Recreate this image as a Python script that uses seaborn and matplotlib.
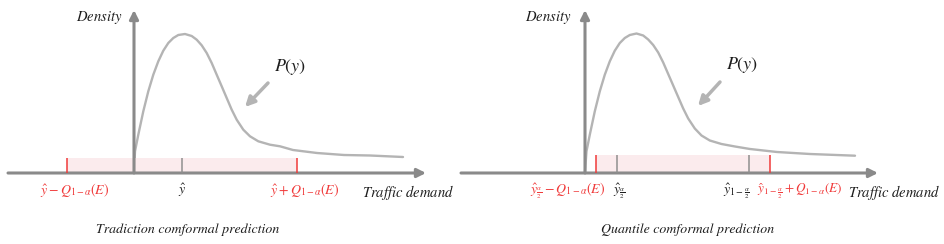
import matplotlib
matplotlib.use("Agg")
import matplotlib.pyplot as plt
import seaborn as sns
import pandas as pd

#-------------------------------------------------------------------------------------
# Values (x = demand from the y axis, y = density)
#-------------------------------------------------------------------------------------
# Traditional conformal prediction panel
trad_x = [0, 1, 4.3, 9.3, 14.3, 19.3, 24.3, 29.3, 34.3, 39.3, 44.3, 51, 57.7, 62.7, 67.7,
          72.7, 77.7, 82.7, 87.7, 92.7, 97.7, 102.7, 109.3, 116, 124.3, 136, 146, 159,
          183, 210, 236, 269]
trad_density = [1, 21.7, 38.3, 61.7, 81.7, 98.3, 111.7, 122.3, 130, 135, 138, 139, 137,
                133.3, 127.7, 120, 110, 98.3, 86.7, 75, 63.3, 53.3, 43.3, 36.7, 31.7, 28.3,
                26.7, 23, 20, 18, 17.5, 16]
trad_yhat = 48
trad_q = 115

# Quantile conformal prediction panel
quant_x = [0, 1.5, 4.8, 9.8, 14.8, 19.8, 24.8, 29.8, 34.8, 39.8, 44.8, 51.5, 58.2, 63.2,
           68.2, 73.2, 78.2, 83.2, 88.2, 93.2, 98.2, 103.2, 109.8, 116.5, 124.8, 136.5,
           150, 165, 192, 225, 270]
quant_density = [1, 21.7, 38.3, 61.7, 81.7, 98.3, 111.7, 122.3, 130, 135, 138, 139.5, 137.5,
                 133.5, 128, 120.5, 110.5, 99, 87.5, 76, 64.5, 54.5, 44.5, 37.5, 32.5, 29,
                 26.5, 24, 21, 19, 17.3]
quant_lo = 32
quant_hi = 164
quant_q = 21

# Texts
trad_labels = [r"$\hat{y}-Q_{1-\alpha}(E)$", r"$\hat{y}$", r"$\hat{y}+Q_{1-\alpha}(E)$"]
quant_labels = [r"$\hat{y}_{\frac{\alpha}{2}}-Q_{1-\alpha}(E)$", r"$\hat{y}_{\frac{\alpha}{2}}$",
                r"$\hat{y}_{1-\frac{\alpha}{2}}$", r"$\hat{y}_{1-\frac{\alpha}{2}}+Q_{1-\alpha}(E)$"]
titles = ["Tradiction comformal prediction", "Quantile comformal prediction"]

#-------------------------------------------------------------------------------------
# Style
#-------------------------------------------------------------------------------------
sns.set_theme(style="white")
plt.rcParams["mathtext.fontset"] = "stix"
plt.rcParams["font.family"] = ["STIXGeneral", "DejaVu Serif"]

axis_gray = "#8a8a8a"
curve_gray = "#b4b4b4"
red = "#f03a3a"
band_pink = "#fbe8ea"
text_dark = "#1e1e1e"
label_size = 10

fig = plt.figure(figsize=(9.45, 2.44), dpi=100)

# one axes per panel, one data unit ~ one pixel
ax1 = fig.add_axes([0, 0, 472 / 945, 1])
ax1.set_xlim(-134, 338)
ax1.set_ylim(-71, 173)
ax2 = fig.add_axes([472 / 945, 0, 473 / 945, 1])
ax2.set_xlim(-113, 360)
ax2.set_ylim(-71, 173)


def draw_frame(ax, x_start, x_end, y_end, dens_x, traffic_x):
    # x and y axes with arrow heads
    ax.annotate("", xy=(x_end, 0), xytext=(x_start, 0),
                arrowprops=dict(arrowstyle="-|>", color=axis_gray, lw=2.2,
                                mutation_scale=13, shrinkA=0, shrinkB=0), zorder=3)
    ax.annotate("", xy=(0, y_end), xytext=(0, 0),
                arrowprops=dict(arrowstyle="-|>", color=axis_gray, lw=2.2,
                                mutation_scale=13, shrinkA=0, shrinkB=0), zorder=3)
    ax.text(dens_x, 156, r"$Density$", ha="right", va="center", fontsize=10.5, color=text_dark)
    ax.text(traffic_x, -19, r"$Traffic\ demand$", ha="left", va="center", fontsize=10.5, color=text_dark)


def draw_pointer(ax, x0, y0, x1, y1, tx, ty):
    ax.annotate("", xy=(x1, y1), xytext=(x0, y0),
                arrowprops=dict(arrowstyle="-|>", color=curve_gray, lw=2.5,
                                mutation_scale=14, shrinkA=0, shrinkB=0))
    ax.text(tx, ty, r"$P(y)$", ha="center", va="center", fontsize=13, color=text_dark)


# Panel 1 ------------------------------------------------------------------------------
df1 = pd.DataFrame({"x": trad_x, "density": trad_density})
sns.lineplot(data=df1, x="x", y="density", ax=ax1, color=curve_gray, lw=1.7, zorder=2,
             solid_joinstyle="round", solid_capstyle="round")
lo1, hi1 = trad_yhat - trad_q, trad_yhat + trad_q
ax1.fill_between([lo1, hi1], 0, 15, color=band_pink, alpha=0.85, lw=0, zorder=2.5)
ax1.vlines([lo1, hi1], 0, 15, color=red, lw=1.1, zorder=4)
ax1.vlines([trad_yhat], 0, 15, color="#8f8f8f", lw=1.1, zorder=4)
draw_frame(ax1, -126, 292, 163, -11, 228)
draw_pointer(ax1, 134, 90, 111, 66, 156, 106)
ax1.text(-59.5, -17, trad_labels[0], ha="center", va="center", fontsize=label_size, color=red)
ax1.text(trad_yhat, -17, trad_labels[1], ha="center", va="center", fontsize=label_size, color=text_dark)
ax1.text(170.5, -17, trad_labels[2], ha="center", va="center", fontsize=label_size, color=red)
ax1.text(54, -57, titles[0], ha="center", va="center", fontsize=10, style="italic", color=text_dark)

# Panel 2 ------------------------------------------------------------------------------
df2 = pd.DataFrame({"x": quant_x, "density": quant_density})
sns.lineplot(data=df2, x="x", y="density", ax=ax2, color=curve_gray, lw=1.7, zorder=2,
             solid_joinstyle="round", solid_capstyle="round")
lo2, hi2 = quant_lo - quant_q, quant_hi + quant_q
ax2.fill_between([lo2, hi2], 0, 18, color=band_pink, alpha=0.85, lw=0, zorder=2.5)
ax2.vlines([lo2, hi2], 0, 18, color=red, lw=1.1, zorder=4)
ax2.vlines([quant_lo, quant_hi], 0, 18, color="#8f8f8f", lw=1.1, zorder=4)
draw_frame(ax2, -124, 293, 163, -13, 263)
draw_pointer(ax2, 135, 91, 113, 67, 157, 108)
ax2.text(20, -18, quant_labels[0], ha="right", va="center", fontsize=label_size, color=red)
ax2.text(28, -18, quant_labels[1], ha="left", va="center", fontsize=label_size, color=text_dark)
ax2.text(165, -18, quant_labels[2], ha="right", va="center", fontsize=label_size, color=text_dark)
ax2.text(172, -18, quant_labels[3], ha="left", va="center", fontsize=9.5, color=red)
ax2.text(103, -57, titles[1], ha="center", va="center", fontsize=10, style="italic", color=text_dark)

for ax in (ax1, ax2):
    ax.set_axis_off()

plt.savefig("out.png", dpi=100)
